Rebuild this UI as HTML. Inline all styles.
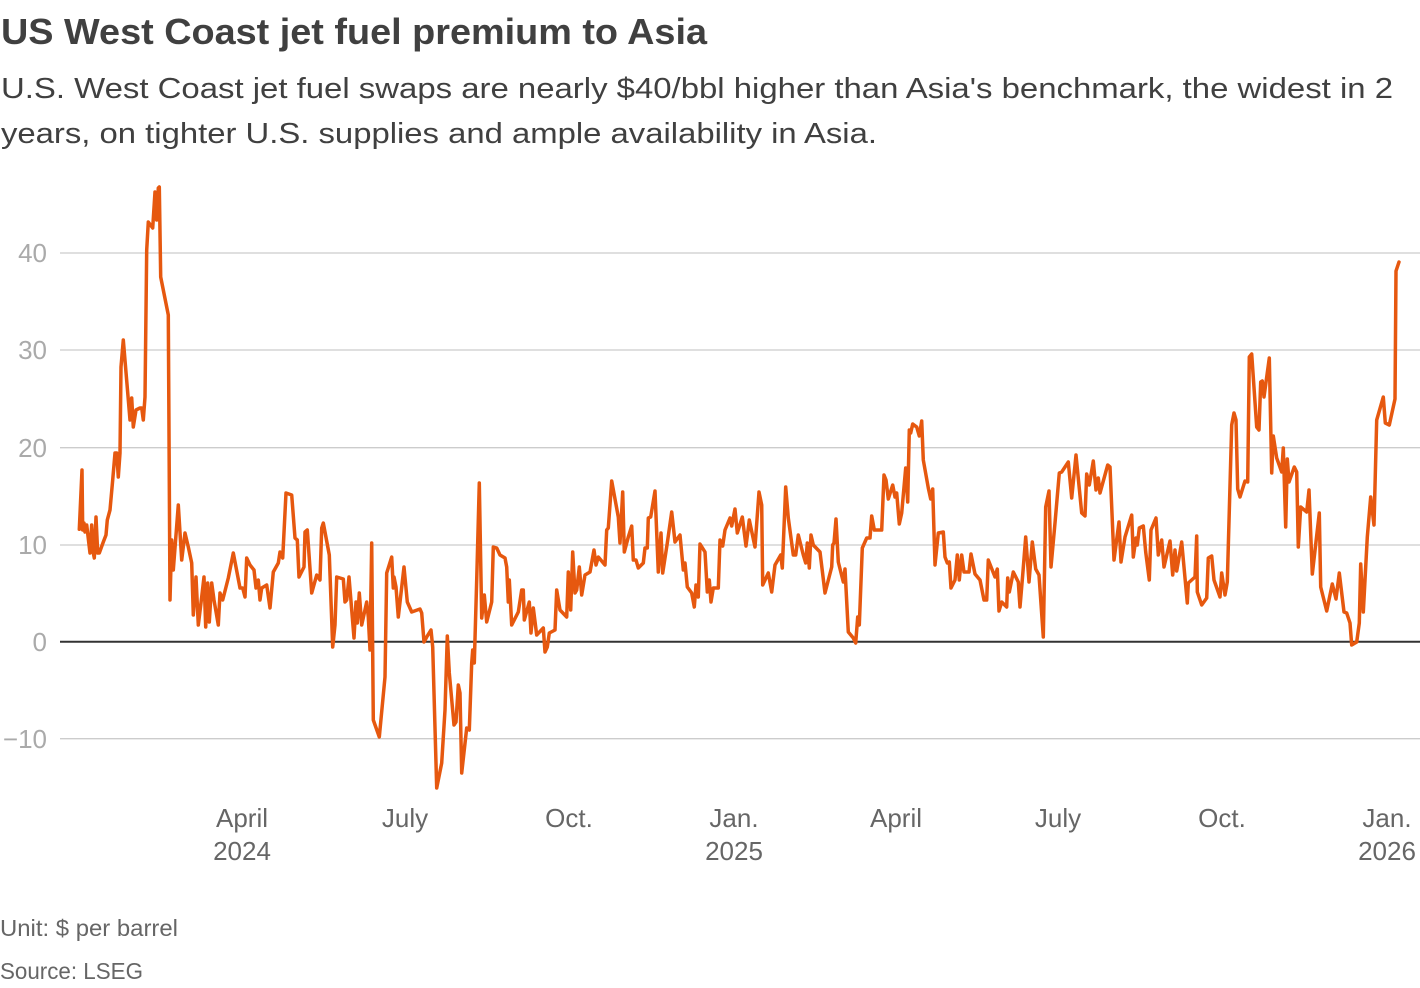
<!DOCTYPE html>
<html><head><meta charset="utf-8"><style>
html,body{margin:0;padding:0;background:#fff;}
svg{display:block;}
text{font-family:"Liberation Sans",sans-serif;}
</style></head><body>
<svg width="1420" height="988" viewBox="0 0 1420 988" xmlns="http://www.w3.org/2000/svg">
<text x="1" y="44" font-size="36" font-weight="bold" fill="#404040" textLength="706" lengthAdjust="spacingAndGlyphs">US West Coast jet fuel premium to Asia</text>
<text x="1" y="98" font-size="29" fill="#404040" textLength="1392" lengthAdjust="spacingAndGlyphs">U.S. West Coast jet fuel swaps are nearly $40/bbl higher than Asia's benchmark, the widest in 2</text>
<text x="1" y="143" font-size="29" fill="#404040" textLength="876" lengthAdjust="spacingAndGlyphs">years, on tighter U.S. supplies and ample availability in Asia.</text>
<g stroke="#cccccc" stroke-width="1.3">
<line x1="60" y1="253" x2="1420" y2="253"/>
<line x1="60" y1="350" x2="1420" y2="350"/>
<line x1="60" y1="447.7" x2="1420" y2="447.7"/>
<line x1="60" y1="545" x2="1420" y2="545"/>
<line x1="60" y1="738.7" x2="1420" y2="738.7"/>
</g>
<g font-size="26" fill="#aaaaaa" text-anchor="end">
<text x="47" y="262">40</text>
<text x="47" y="359">30</text>
<text x="47" y="457">20</text>
<text x="47" y="554">10</text>
<text x="47" y="651">0</text>
<text x="47" y="748">−10</text>
</g>
<g font-size="26" fill="#666666" text-anchor="middle">
<text x="242" y="827">April</text><text x="242" y="860">2024</text>
<text x="405" y="827">July</text>
<text x="569" y="827">Oct.</text>
<text x="734" y="827">Jan.</text><text x="734" y="860">2025</text>
<text x="896" y="827">April</text>
<text x="1058" y="827">July</text>
<text x="1222" y="827">Oct.</text>
<text x="1387" y="827">Jan.</text><text x="1387" y="860">2026</text>
</g>
<line x1="60" y1="641.7" x2="1420" y2="641.7" stroke="#333333" stroke-width="2"/>
<polyline fill="none" stroke="#e6580f" stroke-width="3.5" stroke-linejoin="round" stroke-linecap="round" points="
79.3,529.3 82,470 82.7,530 84,523 85,532 86.7,525 90,553 91.7,525 93.3,553 94.3,558 96,517 97.7,553 99.3,553 103.3,542 106,535 107.3,520 110,510 112.7,480 115,453 116.7,453 118.3,477 120,453 121,367 123.3,340 130,420 131.7,398 133.3,427 136,410 140,408 141.7,408 143.3,420 145,397 146.7,250 148.3,222 152.7,228 155,192 156.7,220 158.3,188 159.3,187 160.7,277 168.3,315 170,600 171.7,540 173.3,570 178.3,505 181.7,560 185,533 188.3,547 191.7,563 193.3,615 196,577 198.3,625 201.7,597 204,577 205.7,627 207.7,583 209.3,622 211.7,583 214,600 218.3,625 220,593 222.7,600 228.3,578 233.3,553 240,588 242.7,588 245,597 246.7,558 250,565 254,570 256,588 258.3,580 260,600 261.7,588 266.7,585 270,608 273.3,572 278.3,563 280,552 282.7,558 286,493 291.7,495 295,538 297.3,540 299,577 304,567 305,532 307.3,530 311.7,593 316.7,575 320,580 321.7,528 323.3,523 329.3,555 332.7,647 335,625 336.7,577 343.3,579 345,602 346.7,600 349,577 354,638 356,602 357.3,623 359.3,593 361.7,625 366.7,602 368.3,617 370,650 371.7,543 373.3,720 379.3,737 385,677 386.7,573 391.7,557 393.3,588 394,577 396,587 398.3,617 404,567 407.3,602 411.7,612 420,609 421.7,613 424,642 426.7,637 431,630 432.7,647 436.7,788 441.7,763 445,710 447.3,636 449.3,673 454,725 456,722 458.3,685 460,693 461.7,773 466.7,728 469.3,730 471.7,663 472.7,650 474.3,663 476.7,580 479.3,483 481.7,618 484.3,595 486.7,622 491.7,602 493.3,547 496.7,548 500,555 505,558 506.7,567 508.3,602 509.3,580 511.7,625 518.3,612 521.7,590 523.3,590 524.3,620 529.3,602 531,633 533.3,608 536.7,635 543.3,628 545,652 547.3,647 549.3,633 555,630 556.7,590 560,610 566.7,617 568.3,572 570.7,610 572.7,552 575,593 576.7,590 579.3,567 581.7,595 585,575 590,572 594,550 596,565 598.3,557 605,565 606.7,530 608.3,528 611.7,481 618.3,517 620,543 622.7,492 624.3,552 628.3,537 631.7,526 633.3,560 636,560 638.3,568 643.3,563 645,548 647.3,548 648.3,518 650.7,517 655,491 658.3,572 661,533 662.7,573 667.3,543 671.7,512 675,542 680,535 683.3,570 685,563 687.3,587 691.7,593 694.3,607 696,585 698.3,597 700,544 705,552 707.3,592 709.3,580 711,602 713.3,588 718.3,588 720,540 722.7,546 725,530 730,518 731.7,526 735,509 737.3,533 742.3,517 746,546 749.3,520 755,547 759,492 761.7,505 762.7,585 768.3,573 771.7,592 775,565 780.7,555 782.3,568 785.7,487 788.3,518 793.3,555 795.7,555 798.3,535 803.3,555 805.7,563 807.3,543 809.3,568 811,535 813.3,545 820,552 825,593 831.7,567 832.7,545 834,543 836,519 838.3,562 843.3,582 845,569 848.3,632 853.3,638 855.7,643 857.7,617 859.3,625 862.3,548 866.7,538 870,538 871.7,516 874.3,530 881.7,530 884,475 886,480 888.3,499 892.7,485 895,497 896.7,493 899.3,524 901.7,513 905.7,468 907.7,502 909.3,430 910.7,433 912.7,424 916.7,427 919.3,436 921.7,421 923.3,460 928.3,488 930.7,499 932.7,489 935,565 938.3,533 943.3,532 945,557 947.3,563 949.3,562 951,588 955,580 957.3,555 959.3,580 961.7,555 964,572 969,572 971,554 975,574 980,580 984,600 986.7,600 988.3,560 995,577 997.3,569 999,611 1001.7,602 1006.7,607 1007.7,578 1009.3,592 1013.3,572 1018.3,582 1020,607 1022.7,575 1025.7,537 1029,582 1032.3,542 1035.7,569 1039,575 1043.3,637 1045.7,507 1049,491 1051,567 1055,523 1059.3,473 1061.7,472 1068.3,462 1071.7,498 1076,455 1081.7,513 1085,516 1086.7,474 1089.3,485 1093.3,461 1096,490 1098.3,478 1100,493 1107.7,465 1110,467 1114,560 1119,522 1121,562 1125,537 1131.7,515 1133.3,557 1136,538 1137.3,545 1139.3,528 1143.3,526 1145.7,552 1149.3,580 1151,530 1156,518 1158.3,555 1161.7,540 1164,567 1170,541 1172.7,575 1175,550 1176.7,571 1181.7,542 1187.3,603 1188.3,583 1195,577 1196.7,536 1197.3,592 1201.7,605 1206.7,598 1208.3,558 1211.7,556 1214,580 1220,597 1221.7,573 1225,595 1227.3,582 1231.7,425 1234,413 1236,420 1237.7,489 1240,497 1245,481 1247.7,482 1249.3,357 1251.7,354 1256.7,427 1259,430 1260.7,382 1262.3,381 1264,397 1269.3,358 1271.7,473 1273.3,436 1276.7,458 1281.7,472 1283.3,448 1285.7,527 1287.3,459 1289,482 1294.3,467 1296.7,472 1298.3,547 1300.7,507 1306.7,512 1309,490 1312.3,574 1319.3,513 1320.7,587 1326.7,611 1332.3,584 1336,599 1339.3,573 1344,612 1346.7,613 1350,623 1351.7,645 1356.7,642 1359.3,623 1360.7,564 1363.3,612 1367.3,537 1370.7,497 1374,525 1376.7,420 1383.3,397 1385.3,423 1389.3,425 1395,399 1396,271 1399,262"/>
<text x="0" y="936" font-size="23" fill="#666666" textLength="178" lengthAdjust="spacingAndGlyphs">Unit: $ per barrel</text>
<text x="0" y="979" font-size="23" fill="#666666" textLength="143" lengthAdjust="spacingAndGlyphs">Source: LSEG</text>
</svg>
</body></html>
